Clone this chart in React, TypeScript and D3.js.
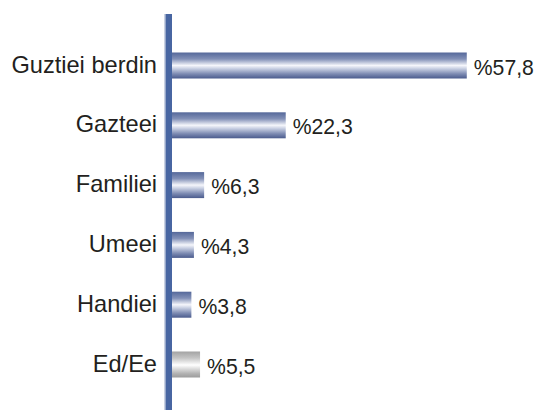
import React from "react";
import * as d3 from "d3";

const categories = ["Guztiei berdin", "Gazteei", "Familiei", "Umeei", "Handiei", "Ed/Ee"];
const values = [57.8, 22.3, 6.3, 4.3, 3.8, 5.5];
const valueLabels = ["%57,8", "%22,3", "%6,3", "%4,3", "%3,8", "%5,5"];
const greyCategories = ["Ed/Ee"];

const W = 536;
const H = 410;

export default function App() {
  const x = d3.scaleLinear().domain([0, 60]).range([172, 478]);
  const y = d3.scalePoint<string>().domain(categories).range([65.5, 364.5]);
  const barH = 26;
  const font = "'Liberation Sans', Arial, Helvetica, sans-serif";

  return (
    <svg
      width={W}
      height={H}
      style={{ position: "absolute", left: 0, top: 0, background: "#fff" }}
    >
      <defs>
        <linearGradient id="blueGrad" x1="0" y1="0" x2="0" y2="1">
          <stop offset="0" stopColor="#55689a" />
          <stop offset="0.25" stopColor="#8290b7" />
          <stop offset="0.5" stopColor="#f5f6fb" />
          <stop offset="0.62" stopColor="#c9d0e3" />
          <stop offset="0.82" stopColor="#7e8cb3" />
          <stop offset="1" stopColor="#4a5b8d" />
        </linearGradient>
        <linearGradient id="greyGrad" x1="0" y1="0" x2="0" y2="1">
          <stop offset="0" stopColor="#a3a3a3" />
          <stop offset="0.25" stopColor="#c4c4c4" />
          <stop offset="0.52" stopColor="#ffffff" />
          <stop offset="0.65" stopColor="#e0e0e0" />
          <stop offset="0.85" stopColor="#b2b2b2" />
          <stop offset="1" stopColor="#9c9c9c" />
        </linearGradient>
      </defs>

      {categories.map((c, i) => {
        const cy = y(c) as number;
        const grey = greyCategories.includes(c);
        return (
          <g key={c}>
            <rect
              x={x(0)}
              y={cy - barH / 2}
              width={x(values[i]) - x(0)}
              height={barH}
              fill={grey ? "url(#greyGrad)" : "url(#blueGrad)"}
            />
            <text
              x={157}
              y={cy + 7}
              textAnchor="end"
              fontFamily={font}
              fontSize={23.6}
              fill="#231f20"
            >
              {c}
            </text>
            <text
              x={x(values[i]) + 7}
              y={cy + 9}
              textAnchor="start"
              fontFamily={font}
              fontSize={21.2}
              fill="#231f20"
            >
              {valueLabels[i]}
            </text>
          </g>
        );
      })}

      <rect x={164} y={14} width={1.5} height={H - 14} fill="#c9d1e2" />
      <rect x={165.5} y={14} width={6.5} height={H - 14} fill="#4866a2" />
    </svg>
  );
}
